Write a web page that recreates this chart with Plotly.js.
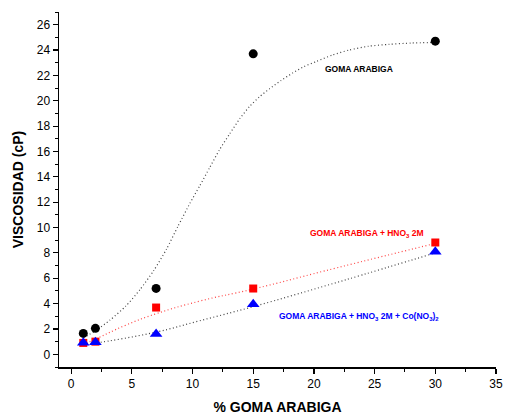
<!DOCTYPE html>
<html>
<head>
<meta charset="utf-8">
<script src="https://cdn.plot.ly/plotly-3.0.1.min.js"></script>
<style>html,body{margin:0;padding:0;background:#fff}#chart{width:505px;height:417px}</style>
</head>
<body>
<div id="chart"></div>
<script>
// Measured points
const xPct = [1, 2, 7, 15, 30];
const yGoma = [1.65, 2.05, 5.2, 23.7, 24.7];
const yGomaHNO3 = [0.9, 1.0, 3.69, 5.19, 8.82];
const yGomaHNO3Co = [0.92, 0.95, 1.6, 3.95, 8.1];

// Fitted curves
const fitGomaX = [1, 2, 3.2, 4.5, 5.67, 6.8, 7.86, 8.8, 9.78, 10.6, 11.4, 12.2, 13.07, 13.9, 14.7, 15.5, 16.35, 17.3, 18.27, 19.2, 20.2, 21.5, 22.9, 24.5, 26.2, 28, 30];
const fitGomaY = [1.3, 1.85, 2.7, 3.8, 5.1, 6.6, 8.3, 10.1, 11.9, 13.3, 14.7, 16.1, 17.4, 18.6, 19.55, 20.3, 20.95, 21.6, 22.2, 22.7, 23.1, 23.6, 24.0, 24.3, 24.45, 24.55, 24.6];
const fitHNO3X = [1, 2, 4.5, 7, 10.6, 15, 22, 30];
const fitHNO3Y = [0.8, 1.2, 2.3, 3.2, 4.2, 5.15, 6.85, 8.75];
const fitCoX = [1, 2, 7, 10.6, 15, 22.6, 30];
const fitCoY = [0.85, 0.9, 1.75, 2.65, 3.76, 5.87, 8.0];

const xTicks = [0, 5, 10, 15, 20, 25, 30, 35];
const yTicks = [0, 2, 4, 6, 8, 10, 12, 14, 16, 18, 20, 22, 24, 26];

const dotStyle = '1px,2.5px';
const traces = [
  {x: fitGomaX, y: fitGomaY, mode: 'lines', line: {shape: 'spline', smoothing: 0.6, dash: dotStyle, color: '#444', width: 1.2}, hoverinfo: 'skip'},
  {x: fitHNO3X, y: fitHNO3Y, mode: 'lines', line: {shape: 'spline', smoothing: 1.3, dash: dotStyle, color: '#ff4444', width: 1.2}, hoverinfo: 'skip'},
  {x: fitCoX, y: fitCoY, mode: 'lines', line: {shape: 'spline', smoothing: 1, dash: dotStyle, color: '#444', width: 1.2}, hoverinfo: 'skip'},
  {x: xPct, y: yGoma, mode: 'markers', marker: {symbol: 'circle', size: 9, color: '#000'}},
  {x: xPct, y: yGomaHNO3, mode: 'markers', marker: {symbol: 'square', size: 8, color: '#ff0000'}},
  {x: xPct, y: yGomaHNO3Co, mode: 'markers', marker: {symbol: 'triangle-up', size: 11, color: '#0000ff'}}
];

const axisCommon = {
  showline: true, linecolor: '#000', linewidth: 1.5,
  ticks: 'outside', ticklen: 5, tickwidth: 1.2, tickcolor: '#000',
  showgrid: false, zeroline: false,
  tickfont: {family: 'Liberation Sans, Arial', size: 12, color: '#000'}
};

const annFont = {family: 'Liberation Sans, Arial', size: 8.5, weight: 'bold'};

const layout = {
  width: 505, height: 417,
  margin: {l: 59, r: 9, t: 12, b: 50},
  paper_bgcolor: '#fff', plot_bgcolor: '#fff',
  showlegend: false,
  xaxis: Object.assign({}, axisCommon, {
    range: [-1, 35], tickmode: 'array', tickvals: xTicks,
    minor: {dtick: 2.5, tick0: 0, ticks: 'outside', ticklen: 3, tickcolor: '#000', tickwidth: 1},
    title: {text: '% GOMA ARABIGA', standoff: 12, font: {family: 'Liberation Sans, Arial', size: 14, weight: 'bold', color: '#000'}}
  }),
  yaxis: Object.assign({}, axisCommon, {
    range: [-1, 27], tickmode: 'array', tickvals: yTicks,
    minor: {dtick: 1, tick0: 0, ticks: 'outside', ticklen: 3, tickcolor: '#000', tickwidth: 1},
    title: {text: 'VISCOSIDAD (cP)', standoff: 10, font: {family: 'Liberation Sans, Arial', size: 14, weight: 'bold', color: '#000'}}
  }),
  annotations: [
    {x: 23.75, y: 22.5, xref: 'x', yref: 'y', text: 'GOMA ARABIGA', showarrow: false,
     font: Object.assign({color: '#000'}, annFont)},
    {x: 24.4, y: 9.5, xref: 'x', yref: 'y', text: 'GOMA ARABIGA + HNO<sub>3</sub> 2M', showarrow: false,
     font: Object.assign({color: '#ff0000'}, annFont)},
    {x: 23.7, y: 3.0, xref: 'x', yref: 'y', text: 'GOMA ARABIGA + HNO<sub>3</sub> 2M + Co(NO<sub>3</sub>)<sub>2</sub>', showarrow: false,
     font: Object.assign({color: '#0000ff'}, annFont)}
  ]
};

Plotly.newPlot('chart', traces, layout, {displayModeBar: false, staticPlot: true});
</script>
</body>
</html>
